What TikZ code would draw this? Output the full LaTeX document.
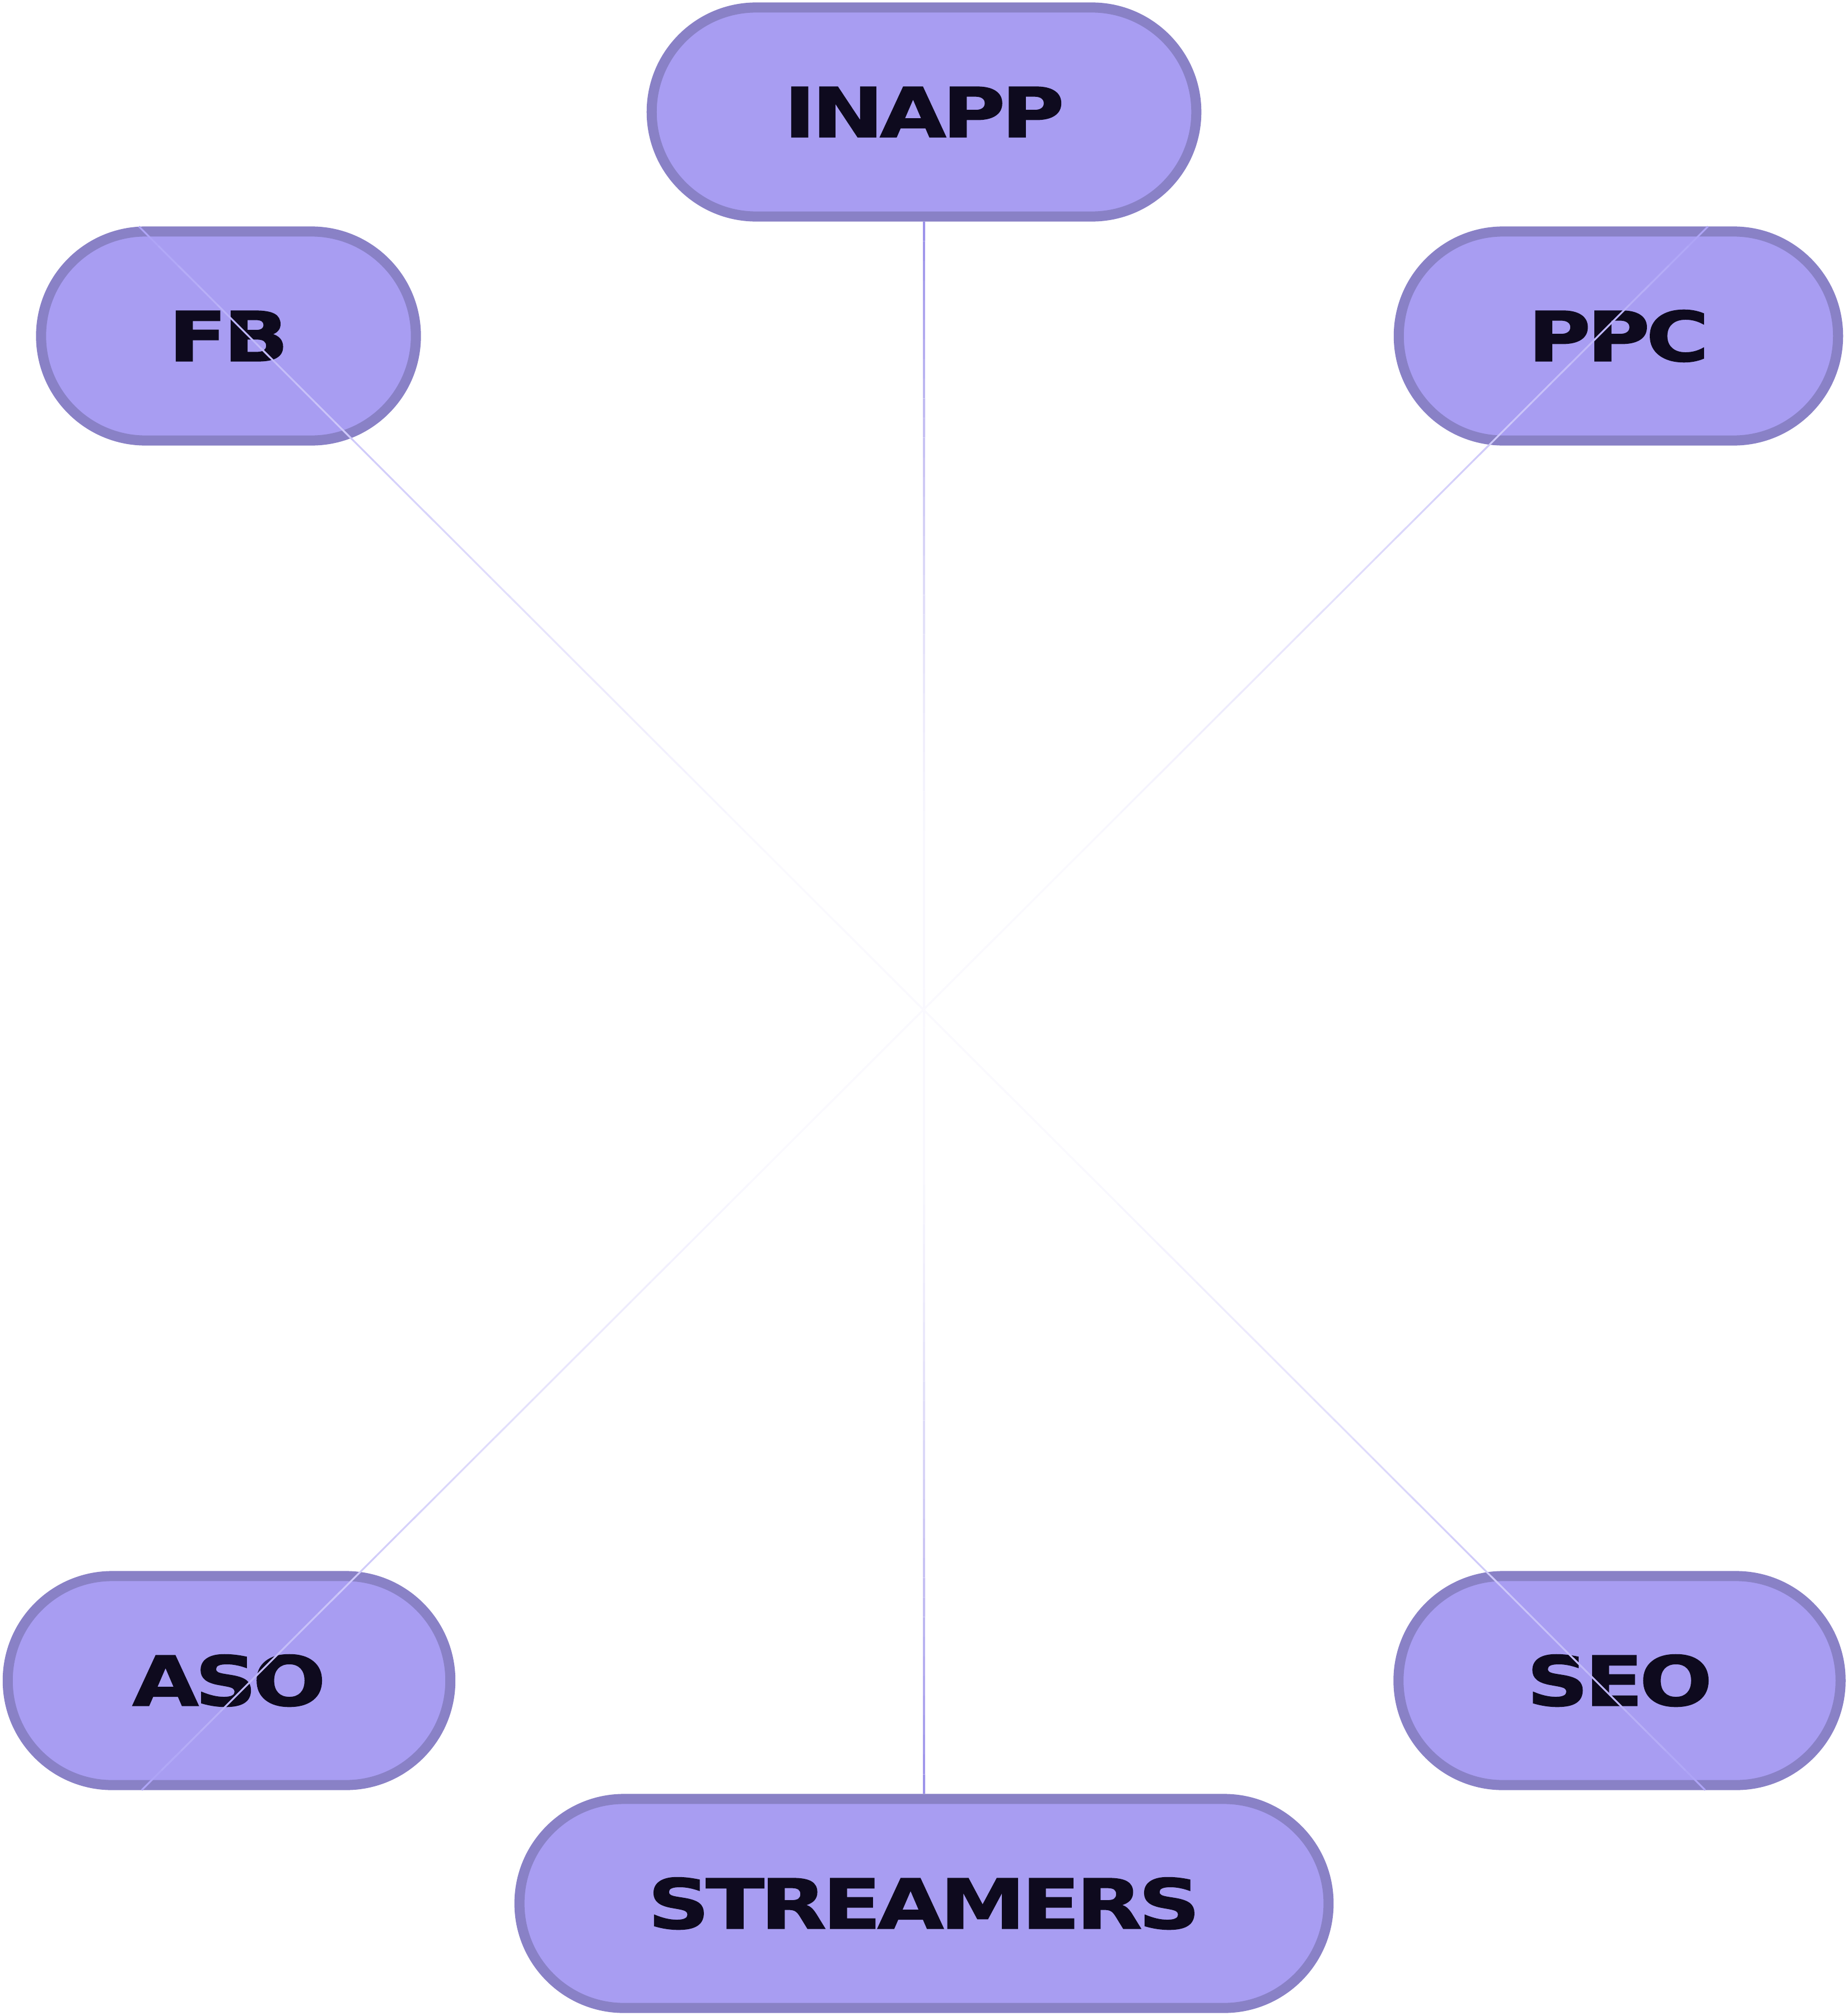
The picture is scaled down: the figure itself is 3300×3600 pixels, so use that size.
\documentclass[tikz,border=0pt]{standalone}
\usepackage{fontspec}
\setmainfont{DejaVu Sans}[FakeStretch=1.25,LetterSpace=-6,FakeBold=1.2]
\usetikzlibrary{shapes.misc,calc}
\definecolor{fillC}{HTML}{A89DF2}
\definecolor{bordC}{HTML}{8981C6}
\definecolor{txtC}{HTML}{0E0A1E}
\definecolor{vertC}{HTML}{9A90EA}
\definecolor{diagC}{HTML}{ACA2F6}
\begin{document}
\begin{tikzpicture}[x=0.01cm,y=-0.01cm,
  pill/.style={rounded rectangle, draw=bordC, fill=fillC, line width=0.18cm,
    inner sep=0pt, minimum height=3.73cm, text=txtC,
    font=\bfseries\fontsize{35}{40}\selectfont},
  seg/.style={line cap=butt}]
\useasboundingbox (0,0) rectangle (3300,3600);
\fill[white] (0,0) rectangle (3300,3600);
% nodes
\node[pill, minimum width=9.72cm] (inapp) at (1650,200) {INAPP};
\node[pill, minimum width=14.44cm] (streamers) at (1650,3399) {STREAMERS};
\node[pill, minimum width=6.69cm] (fb) at (408,600) {FB};
\node[pill, minimum width=7.84cm] (ppc) at (2890,600) {PPC};
\node[pill, minimum width=7.90cm] (aso) at (409,3001) {ASO};
\node[pill, minimum width=7.89cm] (seo) at (2892,3001) {SEO};
% connector end points on the nodes
\coordinate (fbT) at ($(fb.north)+(-160,0)$);
\coordinate (seoB) at ($(seo.south)+(153,0)$);
\coordinate (ppcT) at ($(ppc.north)+(160,0)$);
\coordinate (asoB) at ($(aso.south)+(-156,0)$);
% vertical gradient connector
\foreach \i in {0,...,79}{
  \pgfmathsetmacro{\ta}{\i/80}
  \pgfmathsetmacro{\tb}{(\i+1)/80}
  \pgfmathsetmacro{\s}{max(6,100*abs(2*(\i+0.5)/80-1)^1.8)}
  \draw[seg, line width=0.04cm, color=vertC!\s!white] ($(inapp.south)!\ta!(streamers.north)$) -- ($(inapp.south)!\tb!(streamers.north)$);
}
% diagonal gradient connectors (drawn over the nodes)
\foreach \a/\b in {fbT/seoB, ppcT/asoB}{
  \foreach \i in {0,...,79}{
    \pgfmathsetmacro{\ta}{\i/80}
    \pgfmathsetmacro{\tb}{(\i+1)/80}
    \pgfmathsetmacro{\s}{max(6,100*abs(2*(\i+0.5)/80-1)^1.7)}
    \draw[seg, line width=0.032cm, color=diagC!\s!white] ($(\a)!\ta!(\b)$) -- ($(\a)!\tb!(\b)$);
  }
}
\end{tikzpicture}
\end{document}
